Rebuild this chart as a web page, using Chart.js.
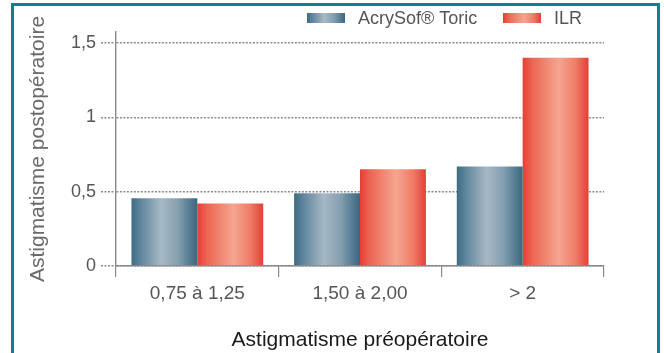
<!DOCTYPE html>
<html>
<head>
<meta charset="utf-8">
<script src="https://cdn.jsdelivr.net/npm/chart.js@4.4.1/dist/chart.umd.min.js"></script>
<style>
  html, body { margin: 0; padding: 0; background: #fff; }
  #wrap { position: relative; width: 664px; height: 353px; overflow: hidden; }
  #c { position: absolute; left: 0; top: 0; }
  #frame {
    position: absolute; left: 11px; top: 3px; width: 643px; height: 370px;
    border: 3px solid #167d8d; border-bottom: none; pointer-events: none;
  }
</style>
</head>
<body>
<div id="wrap">
  <canvas id="c" width="664" height="353"></canvas>
  <div id="frame"></div>
</div>
<script>
// Astigmatisme postopératoire selon l'astigmatisme préopératoire
const categories = ['0,75 à 1,25', '1,50 à 2,00', '> 2'];
const seriesNames = ['AcrySof® Toric', 'ILR'];
const acrysofValues = [0.455, 0.49, 0.67];
const ilrValues = [0.42, 0.65, 1.40];
const yTickValues = [0, 0.5, 1, 1.5];

const FONT = "'Liberation Sans', Arial, sans-serif";

// vertical-stripe shading for each family of bars
const stops = {
  blue: [[0, '#3e6b82'], [0.12, '#5b8299'], [0.45, '#a6b8c5'], [0.7, '#86a0b1'], [0.92, '#4d768c'], [1, '#3b687f']],
  red:  [[0, '#e63d35'], [0.15, '#ec6652'], [0.55, '#f5a590'], [0.8, '#ef7d68'], [1, '#e53e36']]
};

function shade(ctx, x0, x1, kind) {
  const g = ctx.createLinearGradient(x0, 0, x1, 0);
  stops[kind].forEach(s => g.addColorStop(s[0], s[1]));
  return g;
}

const CAT_PCT = 0.81;

function barFill(kind, dsIndex) {
  return function (context) {
    const chart = context.chart;
    const xs = chart.scales && chart.scales.x;
    if (!xs || !chart.chartArea || context.dataIndex === undefined) {
      return kind === 'blue' ? '#7f9bad' : '#f07a66';
    }
    const n = categories.length;
    const catW = xs.width / n;
    const center = xs.getPixelForValue(context.dataIndex);
    const barW = catW * CAT_PCT / 2;
    const left = center - catW * CAT_PCT / 2 + dsIndex * barW;
    return shade(chart.ctx, left, left + barW, kind);
  };
}

// legend drawn in the top band, swatches share the bar shading
const legendPlugin = {
  id: 'stripeLegend',
  afterDraw(chart) {
    const ctx = chart.ctx;
    const items = [
      { text: seriesNames[0], kind: 'blue', x: 307 },
      { text: seriesNames[1], kind: 'red', x: 503 }
    ];
    ctx.save();
    ctx.font = '18px ' + FONT;
    ctx.textBaseline = 'middle';
    items.forEach(it => {
      ctx.fillStyle = shade(ctx, it.x, it.x + 38, it.kind);
      ctx.fillRect(it.x, 13, 38, 10);
      ctx.fillStyle = '#555';
      ctx.fillText(it.text, it.x + 51, 19);
    });
    ctx.restore();
  }
};

const gridColor = '#8a8a8a';
const dash = [2, 1.5];

new Chart(document.getElementById('c'), {
  type: 'bar',
  data: {
    labels: categories,
    datasets: [
      { label: seriesNames[0], data: acrysofValues, backgroundColor: barFill('blue', 0) },
      { label: seriesNames[1], data: ilrValues, backgroundColor: barFill('red', 1) }
    ]
  },
  options: {
    responsive: false,
    animation: false,
    events: [],
    layout: { padding: { top: 32, right: 60, left: 0, bottom: 0 } },
    datasets: {
      bar: { categoryPercentage: CAT_PCT, barPercentage: 1, borderWidth: 0 }
    },
    plugins: {
      legend: { display: false },
      tooltip: { enabled: false }
    },
    scales: {
      x: {
        offset: true,
        grid: {
          offset: true,
          drawOnChartArea: false,
          drawTicks: true,
          tickLength: 11,
          color: gridColor,
          lineWidth: 1.2
        },
        border: { display: true, color: gridColor, width: 1.4, dash: dash },
        ticks: {
          color: '#555',
          font: { family: FONT, size: 19 },
          padding: 5,
          maxRotation: 0
        },
        title: {
          display: true,
          text: 'Astigmatisme préopératoire',
          color: '#1a1a1a',
          font: { family: FONT, size: 21 },
          padding: { top: 10, bottom: 0 }
        },
        afterFit(scale) { scale.height = 87; }
      },
      y: {
        min: 0,
        max: 1.574,
        afterBuildTicks(scale) { scale.ticks = yTickValues.map(v => ({ value: v })); },
        grid: {
          color: gridColor,
          lineWidth: 1.4,
          drawTicks: true,
          tickLength: 15,
          tickBorderDash: dash,
          tickColor: gridColor
        },
        border: { display: true, color: gridColor, width: 1.4, dash: dash },
        ticks: {
          color: '#555',
          font: { family: FONT, size: 18 },
          padding: 5,
          callback: v => String(v).replace('.', ',')
        },
        title: {
          display: true,
          text: 'Astigmatisme postopératoire',
          color: '#6a6a6a',
          font: { family: FONT, size: 21 },
          padding: { top: 26, bottom: 0 }
        },
        afterFit(scale) { scale.width = 116; }
      }
    }
  },
  plugins: [legendPlugin]
});
</script>
</body>
</html>
